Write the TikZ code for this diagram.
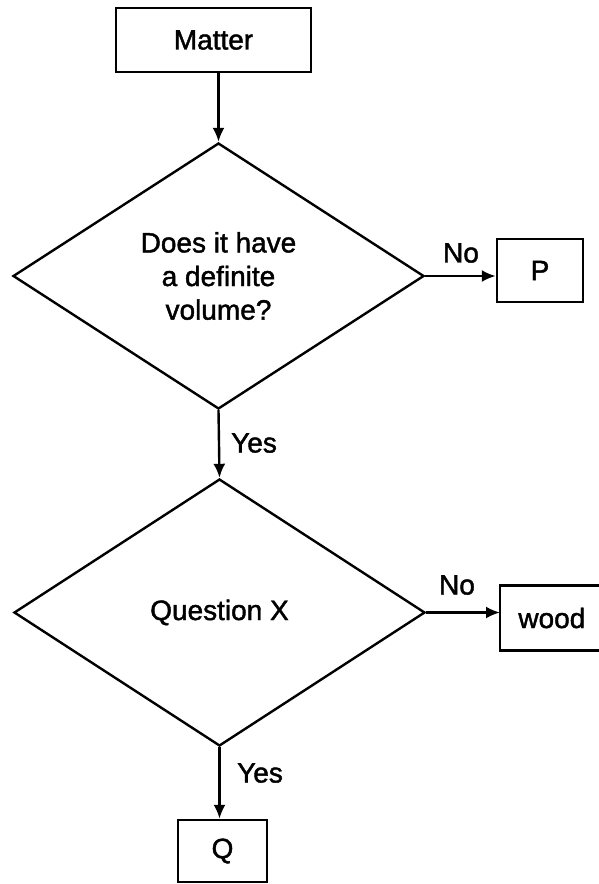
\documentclass[tikz,border=0pt]{standalone}
\usepackage{fontspec}
\setmainfont{Liberation Sans}[FakeBold=1.5]
\usetikzlibrary{shapes.geometric,arrows.meta}
\begin{document}
\begin{tikzpicture}[x=0.5pt,y=-0.5pt,
  every node/.style={font=\fontsize{14}{16.8}\selectfont},
  box/.style={draw,line width=1.2pt,rectangle,inner sep=0pt},
  openbox/.style={rectangle,inner sep=0pt},
  decision/.style={draw,line width=1.2pt,diamond,inner sep=0pt,align=center},
  lbl/.style={inner sep=0pt},
  edge/.style={line width=1.2pt},
  conn/.style={line width=1.2pt,-{Latex[length=7pt,width=6pt]}}]
\useasboundingbox[fill=white] (0,0) rectangle (599,884);
\node[box,minimum width=97.5pt,minimum height=32pt] (matter) at (213.5,40) {Matter};
\node[decision,minimum width=205.5pt,minimum height=133pt,aspect=1.545] (d1) at (218.5,276) {Does it have\\a definite\\volume?};
\node[box,minimum width=43pt,minimum height=31.5pt] (p) at (540,270.5) {P};
\node[decision,minimum width=205.5pt,minimum height=133.5pt,aspect=1.54] (d2) at (219.5,612.5) {Question X};
\node[openbox,anchor=west,minimum height=32pt,inner xsep=9pt,text width=42pt,align=left] (wood) at (500,618) {wood};
\draw[edge] (wood.north east) -- (wood.north west) -- (wood.south west) -- (wood.south east);
\node[box,minimum width=44.5pt,minimum height=31pt] (q) at (222.5,851) {Q};
\node[lbl] (no1) at (461,253) {No};
\node[lbl] (yes1) at (254,443) {Yes};
\node[lbl] (no2) at (457,585) {No};
\node[lbl] (yes2) at (260,773) {Yes};
\draw[conn] (d1.north |- matter.south) -- (d1.north);
\draw[conn] (d1.east) -- (d1.east -| p.west);
\draw[conn] (d1.south) -- (d2.north);
\draw[conn] (d2.east) -- (d2.east -| wood.west);
\draw[conn] (d2.south) -- (d2.south |- q.north);
\end{tikzpicture}
\end{document}
